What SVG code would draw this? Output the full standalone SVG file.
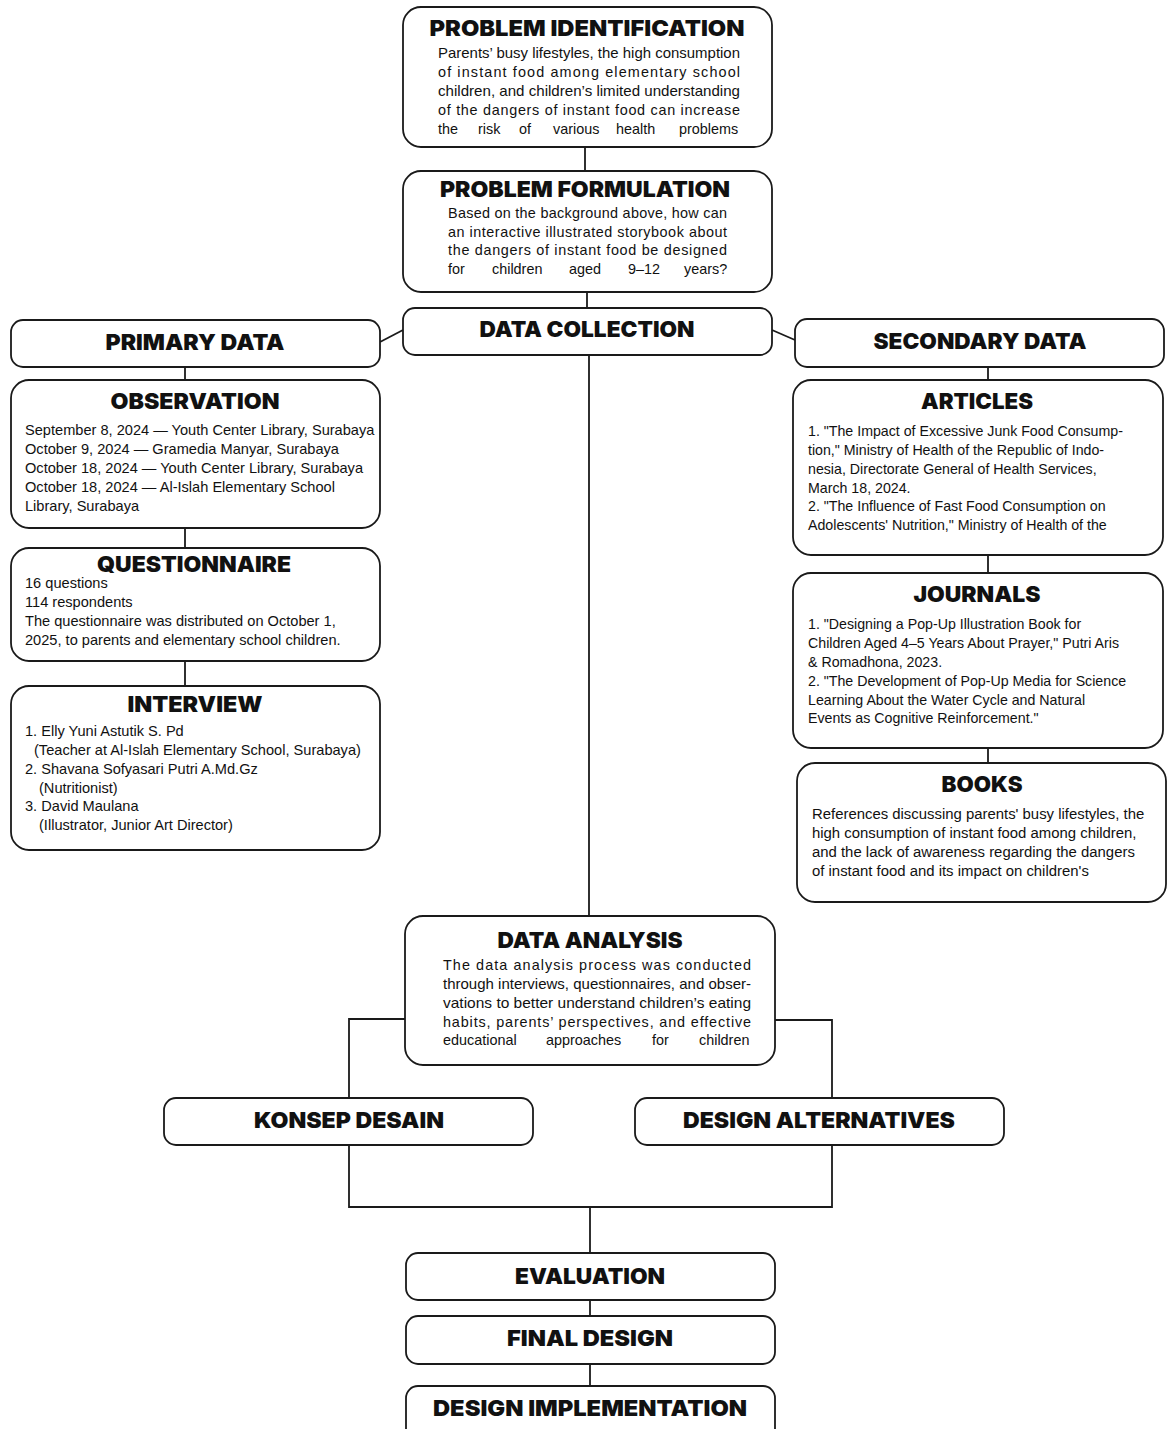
<svg xmlns="http://www.w3.org/2000/svg" width="1167" height="1429" viewBox="0 0 1167 1429">
<style>
.box{fill:#fff;stroke:#1a1a1a;stroke-width:1.8}
.ttl{font-family:"Inter","DejaVu Sans",sans-serif;font-weight:900;font-size:22px;fill:#111;text-anchor:middle}
.txt{font-family:"Liberation Sans","Noto Sans",sans-serif;font-size:14.6px;fill:#111}
.jus{font-family:"Liberation Sans","Noto Sans",sans-serif;font-size:14.4px;fill:#111}
.art{font-size:14.2px}
.bk{font-size:14.9px}
.con{fill:none;stroke:#1a1a1a;stroke-width:1.8}
</style>
<rect width="1167" height="1429" fill="#fff"/>
<g id="connectors">
<path class="con" d="M585 147V171"/>
<path class="con" d="M587 292V308"/>
<path class="con" d="M380 342L403 330"/>
<path class="con" d="M772 330L795 340"/>
<path class="con" d="M185 367V380"/>
<path class="con" d="M185 528V548"/>
<path class="con" d="M185 661V686"/>
<path class="con" d="M988 367V380"/>
<path class="con" d="M988 555V573"/>
<path class="con" d="M988 748V763"/>
<path class="con" d="M589 355V916"/>
<path class="con" d="M405 1019H349V1098"/>
<path class="con" d="M775 1020H832V1098"/>
<path class="con" d="M349 1145V1207H832V1145"/>
<path class="con" d="M590 1207V1253"/>
<path class="con" d="M590 1300V1316"/>
<path class="con" d="M590 1364V1386"/>
</g>
<g id="problem-identification">
<rect class="box" x="403" y="7" width="369" height="140" rx="18"/>
<text class="ttl" x="587" y="36" textLength="315" lengthAdjust="spacingAndGlyphs">PROBLEM IDENTIFICATION</text>
<text class="jus" x="438" y="58" textLength="302" lengthAdjust="spacingAndGlyphs">Parents’ busy lifestyles, the high consumption</text>
<text class="jus" x="438" y="77" textLength="302" lengthAdjust="spacing">of instant food among elementary school</text>
<text class="jus" x="438" y="96" textLength="302" lengthAdjust="spacingAndGlyphs">children, and children’s limited understanding</text>
<text class="jus" x="438" y="115" textLength="302" lengthAdjust="spacing">of the dangers of instant food can increase</text>
<text class="jus" y="134"><tspan x="438">the</tspan><tspan x="478">risk</tspan><tspan x="519">of</tspan><tspan x="553">various</tspan><tspan x="616">health</tspan><tspan x="679">problems</tspan></text>
</g>
<g id="problem-formulation">
<rect class="box" x="403" y="171" width="369" height="121" rx="18"/>
<text class="ttl" x="585" y="197" textLength="290" lengthAdjust="spacingAndGlyphs">PROBLEM FORMULATION</text>
<text class="jus" x="448" y="218" textLength="279" lengthAdjust="spacing">Based on the background above, how can</text>
<text class="jus" x="448" y="237" textLength="279" lengthAdjust="spacing">an interactive illustrated storybook about</text>
<text class="jus" x="448" y="255" textLength="279" lengthAdjust="spacing">the dangers of instant food be designed</text>
<text class="jus" y="274"><tspan x="448">for</tspan><tspan x="492">children</tspan><tspan x="569">aged</tspan><tspan x="628">9–12</tspan><tspan x="684">years?</tspan></text>
</g>
<g id="data-collection">
<rect class="box" x="403" y="308" width="369" height="47" rx="12"/>
<text class="ttl" x="587" y="337" textLength="215" lengthAdjust="spacingAndGlyphs">DATA COLLECTION</text>
</g>
<g id="primary-data">
<rect class="box" x="11" y="320" width="369" height="47" rx="12"/>
<text class="ttl" x="195" y="350" textLength="179" lengthAdjust="spacingAndGlyphs">PRIMARY DATA</text>
</g>
<g id="secondary-data">
<rect class="box" x="795" y="319" width="369" height="48" rx="12"/>
<text class="ttl" x="980" y="349" textLength="213" lengthAdjust="spacingAndGlyphs">SECONDARY DATA</text>
</g>
<g id="observation">
<rect class="box" x="11" y="380" width="369" height="148" rx="18"/>
<text class="ttl" x="195" y="409" textLength="169" lengthAdjust="spacingAndGlyphs">OBSERVATION</text>
<text class="txt" x="25" y="435">September 8, 2024 — Youth Center Library, Surabaya</text>
<text class="txt" x="25" y="454">October 9, 2024 — Gramedia Manyar, Surabaya</text>
<text class="txt" x="25" y="473">October 18, 2024 — Youth Center Library, Surabaya</text>
<text class="txt" x="25" y="492">October 18, 2024 — Al-Islah Elementary School</text>
<text class="txt" x="25" y="511">Library, Surabaya</text>
</g>
<g id="questionnaire">
<rect class="box" x="11" y="548" width="369" height="113" rx="18"/>
<text class="ttl" x="194" y="572" textLength="194" lengthAdjust="spacingAndGlyphs">QUESTIONNAIRE</text>
<text class="txt" x="25" y="588">16 questions</text>
<text class="txt" x="25" y="607">114 respondents</text>
<text class="txt" x="25" y="626">The questionnaire was distributed on October 1,</text>
<text class="txt" x="25" y="645">2025, to parents and elementary school children.</text>
</g>
<g id="interview">
<rect class="box" x="11" y="686" width="369" height="164" rx="18"/>
<text class="ttl" x="195" y="712" textLength="135" lengthAdjust="spacingAndGlyphs">INTERVIEW</text>
<text class="txt" x="25" y="736">1. Elly Yuni Astutik S. Pd</text>
<text class="txt" x="34" y="755">(Teacher at Al-Islah Elementary School, Surabaya)</text>
<text class="txt" x="25" y="774">2. Shavana Sofyasari Putri A.Md.Gz</text>
<text class="txt" x="39" y="793">(Nutritionist)</text>
<text class="txt" x="25" y="811">3. David Maulana</text>
<text class="txt" x="39" y="830">(Illustrator, Junior Art Director)</text>
</g>
<g id="articles">
<rect class="box" x="793" y="380" width="370" height="175" rx="18"/>
<text class="ttl" x="977" y="409" textLength="112" lengthAdjust="spacingAndGlyphs">ARTICLES</text>
<text class="txt art" x="808" y="436">1. "The Impact of Excessive Junk Food Consump-</text>
<text class="txt art" x="808" y="455">tion," Ministry of Health of the Republic of Indo-</text>
<text class="txt art" x="808" y="474">nesia, Directorate General of Health Services,</text>
<text class="txt art" x="808" y="493">March 18, 2024.</text>
<text class="txt art" x="808" y="511">2. "The Influence of Fast Food Consumption on</text>
<text class="txt art" x="808" y="530">Adolescents' Nutrition," Ministry of Health of the</text>
</g>
<g id="journals">
<rect class="box" x="793" y="573" width="370" height="175" rx="18"/>
<text class="ttl" x="977" y="602" textLength="127" lengthAdjust="spacingAndGlyphs">JOURNALS</text>
<text class="txt art" x="808" y="629">1. "Designing a Pop-Up Illustration Book for</text>
<text class="txt art" x="808" y="648">Children Aged 4–5 Years About Prayer," Putri Aris</text>
<text class="txt art" x="808" y="667">&amp; Romadhona, 2023.</text>
<text class="txt art" x="808" y="686">2. "The Development of Pop-Up Media for Science</text>
<text class="txt art" x="808" y="705">Learning About the Water Cycle and Natural</text>
<text class="txt art" x="808" y="723">Events as Cognitive Reinforcement."</text>
</g>
<g id="books">
<rect class="box" x="797" y="763" width="369" height="139" rx="18"/>
<text class="ttl" x="982" y="792" textLength="81" lengthAdjust="spacingAndGlyphs">BOOKS</text>
<text class="txt bk" x="812" y="819">References discussing parents' busy lifestyles, the</text>
<text class="txt bk" x="812" y="838">high consumption of instant food among children,</text>
<text class="txt bk" x="812" y="857">and the lack of awareness regarding the dangers</text>
<text class="txt bk" x="812" y="876">of instant food and its impact on children's</text>
</g>
<g id="data-analysis">
<rect class="box" x="405" y="916" width="370" height="149" rx="18"/>
<text class="ttl" x="590" y="948" textLength="185" lengthAdjust="spacingAndGlyphs">DATA ANALYSIS</text>
<text class="jus" x="443" y="970" textLength="308" lengthAdjust="spacing">The data analysis process was conducted</text>
<text class="jus" x="443" y="989" textLength="308" lengthAdjust="spacingAndGlyphs">through interviews, questionnaires, and obser-</text>
<text class="jus" x="443" y="1008" textLength="308" lengthAdjust="spacingAndGlyphs">vations to better understand children’s eating</text>
<text class="jus" x="443" y="1027" textLength="308" lengthAdjust="spacing">habits, parents’ perspectives, and effective</text>
<text class="jus" y="1045"><tspan x="443">educational</tspan><tspan x="546">approaches</tspan><tspan x="652">for</tspan><tspan x="699">children</tspan></text>
</g>
<g id="konsep-desain">
<rect class="box" x="164" y="1098" width="369" height="47" rx="12"/>
<text class="ttl" x="349" y="1128" textLength="190" lengthAdjust="spacingAndGlyphs">KONSEP DESAIN</text>
</g>
<g id="design-alternatives">
<rect class="box" x="635" y="1098" width="369" height="47" rx="12"/>
<text class="ttl" x="819" y="1128" textLength="272" lengthAdjust="spacingAndGlyphs">DESIGN ALTERNATIVES</text>
</g>
<g id="evaluation">
<rect class="box" x="406" y="1253" width="369" height="47" rx="12"/>
<text class="ttl" x="590" y="1284" textLength="150" lengthAdjust="spacingAndGlyphs">EVALUATION</text>
</g>
<g id="final-design">
<rect class="box" x="406" y="1316" width="369" height="48" rx="12"/>
<text class="ttl" x="590" y="1346" textLength="166" lengthAdjust="spacingAndGlyphs">FINAL DESIGN</text>
</g>
<g id="design-implementation">
<rect class="box" x="406" y="1386" width="369" height="60" rx="12"/>
<text class="ttl" x="590" y="1416" textLength="314" lengthAdjust="spacingAndGlyphs">DESIGN IMPLEMENTATION</text>
</g>
</svg>
